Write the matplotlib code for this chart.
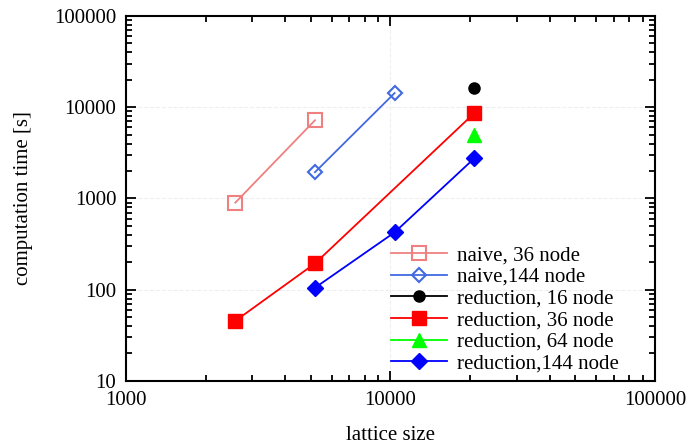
import matplotlib.pyplot as plt
from matplotlib.ticker import LogLocator, NullFormatter

plt.rcParams["font.family"] = ["Liberation Serif", "DejaVu Serif"]
plt.rcParams["mathtext.fontset"] = "stix"

# lattice sizes and timings
naive36_x = [2592, 5184]
naive36_y = [900, 7200]
naive144_x = [5184, 10368]
naive144_y = [1940, 14300]
red16_x = [20736]
red16_y = [16100]
red36_x = [2592, 5184, 20736]
red36_y = [45.5, 194, 8600]
red64_x = [20736]
red64_y = [4930]
red144_x = [5184, 10368, 20736]
red144_y = [105, 425, 2750]

fs = 15

fig = plt.figure(figsize=(6.88, 4.45), dpi=100)
ax = fig.add_axes([0.183, 0.144, 0.769, 0.820])

ax.plot(naive36_x, naive36_y, color="#f08080", lw=1.3, marker="s", ms=10,
        mfc="none", mew=1.5, label="naive, 36 node")
ax.plot(naive144_x, naive144_y, color="#4169e1", lw=1.3, marker="D", ms=7.5,
        mfc="none", mew=1.5, label="naive,144 node")
ax.plot(red16_x, red16_y, color="black", lw=1.3, marker="o", ms=8,
        label="reduction, 16 node")
ax.plot(red36_x, red36_y, color="red", lw=1.3, marker="s", ms=10,
        label="reduction, 36 node")
ax.plot(red64_x, red64_y, color="#00ff00", lw=1.3, marker="^", ms=10,
        label="reduction, 64 node")
ax.plot(red144_x, red144_y, color="blue", lw=1.3, marker="D", ms=8,
        label="reduction,144 node")

ax.set_xscale("log")
ax.set_yscale("log")
ax.set_xlim(1000, 100000)
ax.set_ylim(10, 100000)
ax.set_xticks([1000, 10000, 100000])
ax.set_xticklabels(["1000", "10000", "100000"])
ax.set_yticks([10, 100, 1000, 10000, 100000])
ax.set_yticklabels(["10", "100", "1000", "10000", "100000"])
for a in (ax.xaxis, ax.yaxis):
    a.set_minor_locator(LogLocator(base=10, subs=range(2, 10)))
    a.set_minor_formatter(NullFormatter())

ax.tick_params(which="both", direction="in", top=True, right=True,
               labelsize=fs, width=1.3)
ax.tick_params(which="major", length=7, pad=7)
ax.tick_params(which="minor", length=4)
for s in ax.spines.values():
    s.set_linewidth(1.5)
ax.grid(which="major", color="#efefef", ls="--", lw=0.8)

ax.set_xlabel("lattice size", fontsize=fs, labelpad=12)
ax.set_ylabel("computation time [s]", fontsize=fs, labelpad=15)

ax.legend(loc="lower right", frameon=False, fontsize=fs, handlelength=2.7,
          labelspacing=0.1, borderaxespad=0.3, handletextpad=0.5,
          bbox_to_anchor=(0.96, -0.02))

fig.savefig("out.png", dpi=100)
